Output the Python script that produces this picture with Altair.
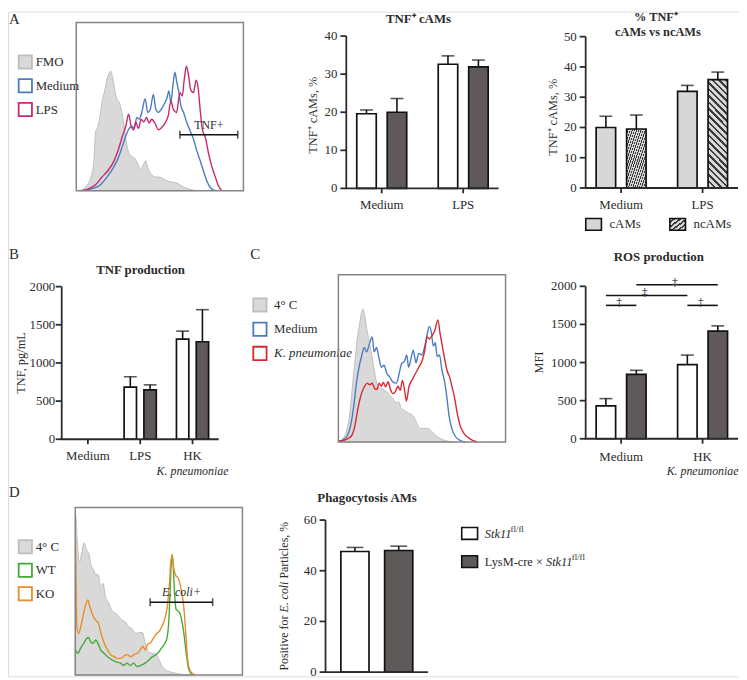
import altair as alt
import pandas as pd

# ------------------------------------------------------------------ data
# A - TNF flow histogram (x: fluorescence 0-100, y: % of max)
a_fmo_x = [1.6, 4.6, 7.1, 9.1, 10.5, 11.5, 12.7, 14.1, 15.4, 17.0, 18.6, 19.8, 20.6, 21.8, 23.0, 24.4, 25.7, 27.3, 28.9, 30.3,
           31.7, 33.3, 35.2, 37.2, 38.8, 40.4, 41.6, 42.8, 44.8, 47.1, 49.5, 52.1, 55.0, 58.0, 61.0, 64.0, 67.9, 71.9]
a_fmo_y = [0, 1.2, 4.1, 9.1, 16.9, 34.6, 37.6, 43.5, 52.4, 59.3, 67.1, 70.1, 71.1, 67.1, 60.2, 54.3, 52.4, 46.5, 36.6, 26.8,
           21.9, 20.5, 18.9, 15.0, 13.0, 15.9, 17.9, 13.4, 10.0, 8.1, 8.1, 7.1, 5.5, 5.1, 4.1, 2.2, 0.8, 0]
a_medium_x = [3.6, 9.5, 14.5, 18.4, 22.4, 25.3, 27.7, 29.7, 31.7, 33.3, 34.7, 36.2, 37.6, 39.2, 41.2, 42.8, 44.4, 46.1, 47.5, 49.1,
              51.1, 53.1, 54.3, 55.4, 56.6, 57.8, 59.0, 60.2, 61.4, 62.6, 64.2, 66.1, 68.1, 70.1, 72.1, 74.1, 76.0, 78.0, 80.4, 83.2]
a_medium_y = [0, 1.2, 3.5, 8.1, 14.0, 19.9, 26.8, 32.7, 37.0, 38.2, 37.0, 43.5, 42.5, 46.5, 54.7, 46.5, 48.8, 57.3, 48.8, 46.5,
              48.8, 52.4, 55.3, 59.3, 52.4, 62.2, 70.5, 64.2, 58.3, 50.4, 46.5, 40.6, 35.6, 30.7, 23.8, 17.9, 12.0, 6.1, 1.6, 0]
a_lps_x = [3.6, 11.5, 15.4, 19.0, 22.4, 25.3, 27.7, 29.7, 31.3, 32.7, 34.3, 35.6, 37.2, 38.8, 40.4, 42.0, 43.6, 45.1, 47.1, 49.1,
           51.1, 53.1, 55.0, 56.6, 58.2, 60.0, 62.0, 63.4, 64.6, 65.9, 67.3, 68.5, 70.1, 71.7, 72.9, 74.1, 75.4, 77.2, 79.2, 81.2,
           83.2, 85.1, 87.1]
a_lps_y = [0, 3.5, 8.1, 12.0, 17.3, 24.8, 32.7, 38.6, 45.5, 39.0, 36.2, 40.9, 37.0, 42.5, 40.9, 43.5, 40.2, 42.5, 40.2, 36.2,
           37.6, 40.2, 44.5, 53.3, 48.0, 46.5, 58.3, 56.3, 66.1, 74.0, 67.7, 59.8, 58.3, 65.7, 61.2, 48.4, 36.6, 31.7, 21.9, 14.0,
           8.1, 2.8, 0]
a_hist_labels = ["FMO", "Medium", "LPS"]
a_gate = [62.0, 96.6]
a_gate_level = 33.3
a_gate_text = "TNF+"

# A - bar charts
a_groups = ["Medium", "LPS"]
genotypes = ["Stk11 fl/fl", "LysM-cre x Stk11 fl/fl"]
a2_mean = [[19.6, 20.0], [32.6, 31.9]]
a2_err = [[1.0, 3.6], [2.2, 1.8]]
a3_series = ["cAMs", "ncAMs"]
a3_mean = [[20.0, 19.5], [31.9, 35.8]]
a3_err = [[3.7, 4.6], [2.0, 2.5]]

# B - TNF production
b_groups = ["Medium", "LPS", "HK"]
b_mean = [[0, 0], [682, 648], [1313, 1278]]
b_err = [[0, 0], [138, 65], [104, 420]]

# C - ROS flow histogram
c_cold_x = [0.6, 2.9, 4.9, 6.9, 8.4, 9.8, 11.2, 12.8, 13.9, 14.7, 15.7, 16.9, 18.3, 19.8, 21.4, 23.0, 24.6, 26.5, 28.5, 30.8,
            32.8, 34.4, 36.0, 37.5, 39.9, 42.2, 44.6, 46.6, 48.5, 51.1, 53.6, 56.0, 58.9, 62.3, 65.8, 68.8]
c_cold_y = [0, 2.2, 6.7, 17.5, 33.3, 47.0, 60.8, 71.1, 77.6, 79.5, 75.6, 67.7, 60.8, 53.0, 43.1, 35.2, 32.3, 31.7, 30.3, 27.8,
            25.8, 23.4, 24.0, 20.5, 18.5, 17.1, 15.6, 12.0, 8.1, 8.1, 8.1, 6.1, 3.3, 1.4, 0.4, 0]
c_medium_x = [0, 2.9, 5.3, 7.3, 9.2, 10.8, 12.4, 13.9, 15.5, 16.9, 18.5, 20.2, 21.4, 22.8, 24.2, 25.7, 27.3, 28.9, 30.8, 32.8,
              34.8, 36.3, 37.9, 39.5, 40.9, 42.0, 43.4, 44.8, 46.4, 48.1, 49.9, 51.7, 53.0, 54.4, 55.6, 56.8, 58.0, 59.1, 60.5,
              61.9, 63.5, 64.8, 66.2, 67.8, 69.7, 72.7, 76.0]
c_medium_y = [0.4, 1.4, 3.7, 9.6, 21.5, 35.2, 45.1, 51.4, 56.5, 53.9, 58.5, 62.8, 53.9, 56.5, 50.6, 44.7, 45.9, 41.1, 38.8, 35.6,
              35.2, 40.7, 47.0, 48.2, 52.0, 44.7, 49.8, 54.9, 47.4, 53.0, 52.0, 57.3, 63.8, 69.1, 65.6, 57.3, 59.3, 51.0, 52.0,
              43.1, 36.2, 27.4, 15.6, 8.1, 3.7, 1.0, 0]
c_kp_x = [0, 4.9, 7.9, 9.8, 11.8, 13.8, 15.7, 17.3, 18.7, 20.2, 21.8, 23.0, 24.4, 25.7, 26.9, 28.3, 29.7, 31.0, 32.6, 34.2,
          35.6, 37.0, 38.3, 39.7, 40.7, 42.2, 44.2, 46.2, 48.1, 50.1, 51.7, 53.0, 54.4, 56.0, 57.6, 59.5, 60.9, 62.3, 63.7,
          65.0, 66.4, 68.0, 69.5, 71.1, 72.9, 75.0, 77.6, 80.6, 83.1]
c_kp_y = [0.4, 1.6, 3.7, 9.3, 20.5, 28.9, 33.3, 35.2, 34.1, 35.2, 31.7, 31.3, 35.2, 33.3, 35.6, 32.9, 36.0, 31.9, 28.9, 30.3,
          33.3, 30.9, 36.8, 30.3, 24.4, 32.9, 37.2, 41.1, 44.7, 48.6, 54.9, 62.8, 61.6, 63.6, 66.3, 73.0, 64.4, 56.5, 49.0,
          42.7, 39.2, 32.9, 26.4, 17.1, 9.6, 5.3, 2.6, 0.8, 0]
c_hist_labels = ["4\u00b0 C", "Medium", "K. pneumoniae"]

# C - ROS production (MFI)
ros_groups = ["Medium", "HK"]
ros_mean = [[432, 846], [972, 1413]]
ros_err = [[95, 52], [126, 68]]
# significance brackets: (group1, series1, group2, series2, level, symbol)
ros_brackets = [("Medium", 0, "Medium", 1, 1750, "\u2020"),
                ("Medium", 0, "HK", 0, 1880, "\u2021"),
                ("Medium", 1, "HK", 1, 2020, "\u2021"),
                ("HK", 0, "HK", 1, 1750, "\u2020")]

# D - phagocytosis flow histogram
d_cold_x = [0, 0.2, 1.2, 2.4, 3.7, 5.3, 6.7, 8.3, 9.5, 10.8, 12.2, 13.8, 15.2, 16.6, 18.1, 20.1, 22.1, 24.1, 26.0, 28.0,
            30.0, 32.0, 33.9, 35.9, 37.9, 40.2, 41.8, 43.8, 45.8, 48.1, 50.1, 52.1, 54.0, 56.6, 60.6, 65.5, 69.4]
d_cold_y = [0, 95.7, 79.9, 67.1, 72.0, 78.9, 75.0, 72.0, 65.2, 63.2, 60.2, 59.8, 52.4, 54.7, 46.5, 42.9, 38.2, 37.0, 35.0, 32.7,
            31.7, 28.7, 27.8, 24.8, 25.2, 25.4, 19.3, 14.0, 13.0, 12.6, 9.1, 5.1, 3.1, 2.0, 1.0, 0.2, 0]
d_wt_x = [0.2, 1.6, 3.4, 5.3, 6.7, 7.9, 9.3, 10.7, 12.2, 13.6, 15.2, 17.2, 19.7, 22.1, 24.5, 27.0, 29.0, 31.0, 32.9, 34.9,
          36.9, 39.4, 41.8, 44.2, 46.2, 48.1, 49.7, 51.1, 52.5, 53.8, 55.0, 56.0, 56.8, 57.4, 58.0, 58.6, 59.4, 60.4, 61.5,
          62.7, 63.7, 64.7, 65.7, 66.7, 67.7, 69.0, 71.0]
d_wt_y = [15.0, 13.0, 16.5, 19.3, 21.7, 22.4, 19.7, 18.9, 20.9, 18.9, 15.0, 13.0, 10.6, 9.1, 7.9, 7.1, 5.9, 7.1, 5.7, 7.1,
          5.1, 5.9, 7.1, 9.1, 11.0, 12.0, 13.4, 15.4, 17.3, 19.3, 22.8, 32.7, 52.4, 66.1, 72.0, 65.2, 48.4, 39.0, 38.2,
          36.6, 32.7, 26.8, 18.9, 10.6, 4.1, 1.2, 0]
d_ko_x = [0.2, 1.0, 2.0, 3.6, 5.3, 6.7, 7.5, 8.7, 10.3, 12.2, 13.8, 15.4, 17.4, 19.3, 21.3, 23.3, 25.2, 27.2, 29.2, 31.2,
          33.1, 35.1, 37.1, 39.1, 40.4, 41.8, 43.4, 45.0, 46.7, 48.7, 50.5, 52.1, 53.6, 55.0, 56.2, 57.2, 58.0, 59.0, 60.2,
          61.5, 62.7, 63.9, 65.1, 66.1, 66.9, 67.9, 69.4, 71.8]
d_ko_y = [79.9, 28.7, 24.8, 30.3, 38.2, 43.5, 44.9, 40.9, 36.2, 32.7, 31.1, 24.8, 18.9, 15.0, 12.0, 11.0, 10.0, 10.0, 11.4, 12.2,
          11.0, 12.2, 13.0, 15.4, 17.3, 15.0, 18.5, 19.3, 21.9, 24.8, 26.4, 29.7, 33.7, 40.6, 52.4, 68.1, 71.1, 63.2, 59.3,
          57.9, 54.3, 48.4, 38.6, 24.8, 13.0, 5.1, 1.6, 0]
d_hist_labels = ["4\u00b0 C", "WT", "KO"]
d_gate = [44.8, 82.2]
d_gate_level = 43.5
d_gate_text = "E. coli+"

# D - phagocytosis bars
d_mean = [47.6, 48.0]
d_err = [1.6, 1.7]

# texts
title_a2 = "TNF\u207a cAMs"
title_a3 = ["% TNF\u207a", "cAMs vs ncAMs"]
title_b = "TNF production"
title_ros = "ROS production"
title_d = "Phagocytosis AMs"
ytitle_a = "TNF\u207a cAMs, %"
ytitle_b = "TNF, pg/mL"
ytitle_ros = "MFI"
ytitle_d = ["Positive for", "E. coli", "Particles, %"]
kp_text = "K. pneumoniae"
legend_d = ["Stk11", "fl/fl", "LysM-cre \u00d7"]
panel_letters = ["A", "B", "C", "D"]

# ------------------------------------------------------------------ style / layout
FONT = "Liberation Serif"
W, H = 739, 672
TXT = "#2b2b2b"
DARK = "#5f5a59"
LIGHT = "#d7d7d7"
HFILL = "#d9d9d9"
HLINE = "#bdbdbd"
FRAME = "#858585"
BLUE = "#4a7cc0"
MAGENTA = "#c8286c"
RED = "#d7282f"
GREEN = "#45a83a"
ORANGE = "#e88c2c"
HATCH_FG = "#3a3a3a"


def X(v):
    """page pixel -> chart pixel (page has an 8px margin)"""
    return v - 8


def Y(v):
    return v - 8


def text(t, x, y, size=13, weight="normal", style="normal", align="left", baseline="middle", angle=0, color=TXT):
    return alt.Chart(pd.DataFrame({"t": [t]})).mark_text(
        font=FONT, fontSize=size, fontWeight=weight, fontStyle=style, align=align,
        baseline=baseline, angle=angle, color=color
    ).encode(x=alt.value(X(x)), y=alt.value(Y(y)), text="t:N")


def hatch(px, spacing=6.6):
    n = max(3, int(round(2 * px / spacing)))
    stops = []
    for k in range(n):
        a, b, c = k / n, (k + 0.6) / n, (k + 1) / n
        stops += [alt.GradientStop(color=LIGHT, offset=a), alt.GradientStop(color=LIGHT, offset=b),
                  alt.GradientStop(color=HATCH_FG, offset=b), alt.GradientStop(color=HATCH_FG, offset=c)]
    return alt.LinearGradient(gradient="linear", stops=stops, x1=0, y1=0, x2=1, y2=1)


def axis_layers(xs, ys, groups, xr, yr, ydom, ticks, ytitle=None, ytitle_x=None, ytitle_dy=0,
                xlabels=True, label_y=None, label_gap=9):
    ax_x, ax_y = X(xr[0]), Y(yr[0])
    out = []
    out.append(alt.Chart(pd.DataFrame({"lo": [ydom[0]], "hi": [ydom[1]]})).mark_rule(
        color=TXT, strokeWidth=1.8).encode(
        x=alt.value(ax_x), y=alt.Y("lo:Q", scale=ys, axis=None), y2="hi:Q"))
    tdf = pd.DataFrame({"v": ticks, "lab": [str(t) for t in ticks]})
    out.append(alt.Chart(tdf).mark_rule(color=TXT, strokeWidth=1.8).encode(
        x=alt.value(ax_x - 6), x2=alt.value(ax_x), y=alt.Y("v:Q", scale=ys, axis=None)))
    out.append(alt.Chart(tdf).mark_text(font=FONT, fontSize=13, color=TXT, align="right", baseline="middle").encode(
        x=alt.value(ax_x - label_gap), y=alt.Y("v:Q", scale=ys, axis=None), text="lab:N"))
    out.append(alt.Chart(pd.DataFrame({"z": [ydom[0]]})).mark_rule(color=TXT, strokeWidth=1.8).encode(
        x=alt.value(X(xr[0]) - 0.9), x2=alt.value(X(xr[1])), y=alt.Y("z:Q", scale=ys, axis=None)))
    if xlabels:
        gdf = pd.DataFrame({"g": groups})
        out.append(alt.Chart(gdf).mark_rule(color=TXT, strokeWidth=1.8).encode(
            x=alt.X("g:N", scale=xs, axis=None), y=alt.value(ax_y), y2=alt.value(ax_y + 5)))
        out.append(alt.Chart(gdf).mark_text(font=FONT, fontSize=13, color=TXT, baseline="middle").encode(
            x=alt.X("g:N", scale=xs, axis=None), y=alt.value(Y(label_y)), text="g:N"))
    if ytitle is not None:
        out.append(text(ytitle, ytitle_x, (yr[0] + yr[1]) / 2 + ytitle_dy, size=12.5, align="center", angle=270))
    return out


def band_centre(n_groups, n_series, xr, band, sub, gi, si):
    L = xr[1] - xr[0]
    step = L / (n_groups - band[0] + 2 * band[1])
    bw = step * (1 - band[0])
    sstep = bw / (n_series - sub[0] + 2 * sub[1])
    return xr[0] + step * (band[1] + gi) + sstep * (sub[1] + si) + sstep * (1 - sub[0]) / 2


def bar_panel(groups, series, means, errs, fills, xr, yr, ydom, ticks, ytitle, ytitle_x,
              band, sub, label_y, hatched=None, extra=None, ytitle_dy=0, label_gap=9):
    rows = []
    for gi, g in enumerate(groups):
        for si, s in enumerate(series):
            rows.append({"g": g, "s": s, "m": means[gi][si], "e": errs[gi][si]})
    df = pd.DataFrame(rows)
    df["top"] = df["m"] + df["e"]
    xs = alt.Scale(type="band", domain=groups, range=[X(xr[0]), X(xr[1])],
                   paddingInner=band[0], paddingOuter=band[1])
    os_ = alt.Scale(type="band", domain=series, paddingInner=sub[0], paddingOuter=sub[1])
    ys = alt.Scale(domain=ydom, range=[Y(yr[0]), Y(yr[1])], nice=False, zero=True)
    base = alt.Chart(df).transform_filter("datum.m > 0")
    xo = alt.XOffset("s:N", scale=os_)
    xx = alt.X("g:N", scale=xs, axis=None)
    layers = []
    bar_base = base if hatched is None else base.transform_filter(alt.datum.s != hatched)
    layers.append(bar_base.mark_bar(stroke="#111", strokeWidth=1.7).encode(
        x=xx, xOffset=xo, y=alt.Y("m:Q", scale=ys, axis=None),
        fill=alt.Fill("s:N", scale=alt.Scale(domain=series, range=fills), legend=None)))
    if hatched is not None:
        ppu = (Y(yr[0]) - Y(yr[1])) / (ydom[1] - ydom[0])
        for gi, g in enumerate(groups):
            val = means[gi][series.index(hatched)]
            layers.append(base.transform_filter((alt.datum.s == hatched) & (alt.datum.g == g))
                          .mark_bar(stroke="#111", strokeWidth=1.7, fill=hatch(val * ppu)).encode(
                x=xx, xOffset=xo, y=alt.Y("m:Q", scale=ys, axis=None)))
    layers.append(base.mark_rule(color="#111", strokeWidth=1.6).encode(
        x=xx, xOffset=xo, y=alt.Y("m:Q", scale=ys, axis=None), y2="top:Q"))
    layers.append(base.mark_tick(color="#111", orient="horizontal", size=13, thickness=1.6).encode(
        x=xx, xOffset=xo, y=alt.Y("top:Q", scale=ys, axis=None)))
    layers += axis_layers(xs, ys, groups, xr, yr, ydom, ticks, ytitle, ytitle_x, ytitle_dy, True, label_y,
                          label_gap)
    if extra is not None:
        layers += extra(xs, os_, ys)
    return alt.layer(*layers)


def histogram(frame, fill_x, fill_y, curves, names, colors, gate=None, gate_level=None,
              gate_text=None, gate_style="normal"):
    x0, x1, y0, y1 = frame
    xs = alt.Scale(domain=[0, 100], range=[X(x0), X(x1)], nice=False, zero=False)
    ys = alt.Scale(domain=[0, 100], range=[Y(y1), Y(y0)], nice=False, zero=False)
    layers = [alt.Chart(pd.DataFrame({"x": fill_x, "y": fill_y})).mark_area(
        fill=HFILL, stroke=HLINE, strokeWidth=1, interpolate="monotone").encode(
        x=alt.X("x:Q", scale=xs, axis=None), y=alt.Y("y:Q", scale=ys, axis=None, stack=None))]
    recs = []
    for name, (cx, cy) in zip(names, curves):
        recs += [{"x": a, "y": b, "s": name} for a, b in zip(cx, cy)]
    layers.append(alt.Chart(pd.DataFrame(recs)).mark_line(strokeWidth=1.4, interpolate="monotone").encode(
        x=alt.X("x:Q", scale=xs, axis=None), y=alt.Y("y:Q", scale=ys, axis=None),
        stroke=alt.Stroke("s:N", scale=alt.Scale(domain=names, range=colors), legend=None)))
    if gate is not None:
        gdf = pd.DataFrame({"a": [gate[0]], "b": [gate[1]], "lev": [gate_level],
                            "mid": [(gate[0] + gate[1]) / 2], "t": [gate_text]})
        layers.append(alt.Chart(gdf).mark_rule(color="#111", strokeWidth=1.6).encode(
            x=alt.X("a:Q", scale=xs, axis=None), x2="b:Q", y=alt.Y("lev:Q", scale=ys, axis=None)))
        edf = pd.DataFrame({"x": gate, "lev": [gate_level] * 2})
        layers.append(alt.Chart(edf).mark_tick(color="#111", orient="vertical", size=8, thickness=1.6).encode(
            x=alt.X("x:Q", scale=xs, axis=None), y=alt.Y("lev:Q", scale=ys, axis=None)))
        layers.append(alt.Chart(gdf).mark_text(font=FONT, fontSize=12, fontStyle=gate_style, color=TXT,
                                               baseline="bottom", dy=-3).encode(
            x=alt.X("mid:Q", scale=xs, axis=None), y=alt.Y("lev:Q", scale=ys, axis=None), text="t:N"))
    fdf = pd.DataFrame({"a": [0], "b": [100], "c": [0], "d": [100]})
    layers.append(alt.Chart(fdf).mark_rect(fillOpacity=0, stroke=FRAME, strokeWidth=1.5).encode(
        x=alt.X("a:Q", scale=xs, axis=None), x2="b:Q", y=alt.Y("c:Q", scale=ys, axis=None), y2="d:Q"))
    return alt.layer(*layers)


def hist_legend(labels, fills, strokes, box_x, y_first, y_last, text_x, italic=()):
    df = pd.DataFrame({"lab": labels})
    ysc = alt.Scale(type="point", domain=labels, range=[Y(y_first), Y(y_last)], padding=0)
    layers = [alt.Chart(df).mark_point(shape="square", size=180, filled=True, strokeWidth=1.8, opacity=1).encode(
        x=alt.value(X(box_x)), y=alt.Y("lab:N", scale=ysc, axis=None),
        fill=alt.Fill("lab:N", scale=alt.Scale(domain=labels, range=fills), legend=None),
        stroke=alt.Stroke("lab:N", scale=alt.Scale(domain=labels, range=strokes), legend=None))]
    for lab in labels:
        layers.append(alt.Chart(df).transform_filter(alt.datum.lab == lab).mark_text(
            font=FONT, fontSize=13, align="left", color=TXT,
            fontStyle="italic" if lab in italic else "normal").encode(
            x=alt.value(X(text_x)), y=alt.Y("lab:N", scale=ysc, axis=None), text="lab:N"))
    return alt.layer(*layers)


RECT_SHAPE = "M-1,-0.75L1,-0.75L1,0.75L-1,0.75Z"


def box(x, y, fill, size=256):
    return alt.Chart(pd.DataFrame({"k": [0]})).mark_point(
        shape=RECT_SHAPE, size=size, filled=True, fill=fill, stroke="#111", strokeWidth=1.6, opacity=1
    ).encode(x=alt.value(X(x)), y=alt.value(Y(y)))


panels = []

# ---- A
panels.append(text(panel_letters[0], 9, 15, size=15))
panels.append(histogram((77, 246, 19, 189), a_fmo_x, a_fmo_y,
                        [(a_medium_x, a_medium_y), (a_lps_x, a_lps_y)], a_hist_labels[1:], [BLUE, MAGENTA],
                        a_gate, a_gate_level, a_gate_text))
panels.append(hist_legend(a_hist_labels, [HFILL, "white", "white"], [HLINE, BLUE, MAGENTA], 25.5, 59, 107, 36))

panels.append(text(title_a2, 423, 15, weight="bold", align="center"))
panels.append(bar_panel(a_groups, genotypes, a2_mean, a2_err, ["white", DARK], (350, 504), (186.7, 32.7),
                        [0, 40], [0, 10, 20, 30, 40], ytitle_a, 316, (0.2, 0.035), (0.36, 0.25), 204,
                        ytitle_dy=3))

panels.append(text(title_a3[0], 663, 13.5, weight="bold", align="center", size=12.5))
panels.append(text(title_a3[1], 665, 28.5, weight="bold", align="center", size=12.5))
panels.append(bar_panel(a_groups, a3_series, a3_mean, a3_err, [LIGHT, LIGHT], (592, 746), (186.3, 33.3),
                        [0, 50], [0, 10, 20, 30, 40, 50], ytitle_a, 559, (0.2, 0.035), (0.36, 0.25), 204,
                        hatched="ncAMs", ytitle_dy=5))
panels.append(box(600, 223, LIGHT, size=250))
panels.append(box(685, 223, hatch(16), size=250))
panels.append(text(a3_series[0], 616, 223))
panels.append(text(a3_series[1], 701, 223))

# ---- B
panels.append(text(panel_letters[1], 9, 253, size=15))
panels.append(text(title_b, 142, 269, weight="bold", align="center"))


def kp_label(xs, os_, ys):
    return [alt.Chart(pd.DataFrame({"g": ["HK"], "t": [kp_text]})).mark_text(
        font=FONT, fontSize=12, fontStyle="italic", color=TXT).encode(
        x=alt.X("g:N", scale=xs, axis=None), y=alt.value(Y(472.5)), text="t:N")]


panels.append(bar_panel(b_groups, genotypes, b_mean, b_err, ["white", DARK], (62.3, 221), (440.3, 286),
                        [0, 2000], [0, 500, 1000, 1500, 2000], ytitle_b, 21.5, (0.2, 0.1), (0.375, 0.245), 457,
                        extra=kp_label, label_gap=6.5))

# ---- C
panels.append(text(panel_letters[2], 253, 253, size=15))
panels.append(hist_legend(c_hist_labels, [HFILL, "white", "white"], [HLINE, BLUE, RED], 262.7, 304.5, 353.5, 277,
                          italic=(c_hist_labels[2],)))
panels.append(histogram((342, 511, 274, 443), c_cold_x, c_cold_y,
                        [(c_medium_x, c_medium_y), (c_kp_x, c_kp_y)], c_hist_labels[1:], [BLUE, RED]))

panels.append(text(title_ros, 666, 256, weight="bold", align="center"))
ROS_XR, ROS_BAND, ROS_SUB = (592, 746), (0.2, 0.035), (0.36, 0.25)


def ros_extra(xs, os_, ys):
    out = []
    recs = []
    for i, (g1, s1, g2, s2, lev, sym) in enumerate(ros_brackets):
        recs.append({"id": i, "g": g1, "s": genotypes[s1], "lev": lev})
        recs.append({"id": i, "g": g2, "s": genotypes[s2], "lev": lev})
    out.append(alt.Chart(pd.DataFrame(recs)).mark_line(color="#111", strokeWidth=1.6).encode(
        x=alt.X("g:N", scale=xs, axis=None), xOffset=alt.XOffset("s:N", scale=os_),
        y=alt.Y("lev:Q", scale=ys, axis=None), detail="id:N"))
    for g1, s1, g2, s2, lev, sym in ros_brackets:
        c1 = band_centre(2, 2, ROS_XR, ROS_BAND, ROS_SUB, ros_groups.index(g1), s1)
        c2 = band_centre(2, 2, ROS_XR, ROS_BAND, ROS_SUB, ros_groups.index(g2), s2)
        out.append(alt.Chart(pd.DataFrame({"g": [g1], "s": [genotypes[s1]], "lev": [lev], "t": [sym]})).mark_text(
            font="DejaVu Serif", fontSize=12, fill="#444444", baseline="alphabetic",
            dx=(c2 - c1) / 2 - 2, dy=1).encode(
            x=alt.X("g:N", scale=xs, axis=None), xOffset=alt.XOffset("s:N", scale=os_),
            y=alt.Y("lev:Q", scale=ys, axis=None), text="t:N"))
    out += kp_label(xs, os_, ys)
    return out


panels.append(bar_panel(ros_groups, genotypes, ros_mean, ros_err, ["white", DARK], ROS_XR, (439.8, 285.7),
                        [0, 2000], [0, 500, 1000, 1500, 2000], ytitle_ros, 545, ROS_BAND, ROS_SUB, 458,
                        extra=ros_extra))

# ---- D
panels.append(text(panel_letters[3], 9, 494, size=15))
panels.append(histogram((76, 245, 509.3, 678.7), d_cold_x, d_cold_y,
                        [(d_wt_x, d_wt_y), (d_ko_x, d_ko_y)], d_hist_labels[1:], [GREEN, ORANGE],
                        d_gate, d_gate_level, d_gate_text, gate_style="italic"))
panels.append(hist_legend(d_hist_labels, [HFILL, "white", "white"], [HLINE, GREEN, ORANGE], 25.5, 549, 596.5, 36))

panels.append(text(title_d, 371, 499.5, weight="bold", align="center"))
ddf = pd.DataFrame({"s": genotypes, "m": d_mean, "e": d_err})
ddf["top"] = ddf["m"] + ddf["e"]
D_XR, D_YR = (329, 432.7), (675.7, 522)
dxs = alt.Scale(type="band", domain=genotypes, range=[X(D_XR[0]), X(D_XR[1])], paddingInner=0.357, paddingOuter=0.35)
dys = alt.Scale(domain=[0, 60], range=[Y(D_YR[0]), Y(D_YR[1])], nice=False, zero=True)
panels.append(alt.layer(
    alt.Chart(ddf).mark_bar(stroke="#111", strokeWidth=1.7).encode(
        x=alt.X("s:N", scale=dxs, axis=None),
        y=alt.Y("m:Q", scale=dys, axis=None),
        fill=alt.Fill("s:N", scale=alt.Scale(domain=genotypes, range=["white", DARK]), legend=None)),
    alt.Chart(ddf).mark_rule(color="#111", strokeWidth=1.6).encode(
        x=alt.X("s:N", scale=dxs, axis=None), y=alt.Y("m:Q", scale=dys, axis=None), y2="top:Q"),
    alt.Chart(ddf).mark_tick(color="#111", orient="horizontal", size=17, thickness=1.6).encode(
        x=alt.X("s:N", scale=dxs, axis=None), y=alt.Y("top:Q", scale=dys, axis=None)),
    *axis_layers(dxs, dys, genotypes, D_XR, D_YR, [0, 60], [0, 20, 40, 60], xlabels=False)
))
# rotated y title with an italic part (reads bottom to top)
fs = 12
w_sp = 0.25 * fs
w_pos = 4.639 * fs + w_sp
w_eco = 2.611 * fs + w_sp
total = 12.527 * fs
y_start = 599 + total / 2
panels.append(text(ytitle_d[0], 287, y_start, size=fs, angle=270))
panels.append(text(ytitle_d[1], 287, y_start - w_pos, size=fs, angle=270, style="italic"))
panels.append(text(ytitle_d[2], 287, y_start - w_pos - w_eco, size=fs, angle=270))

# D legend (genotypes)
panels.append(box(474.7, 535.5, "white"))
panels.append(box(474.7, 564, DARK))
lf = 12.5
w_stk = 2.0 * lf
w_lys = 4.95 * lf
panels.append(text(legend_d[0], 490, 536, size=lf, style="italic"))
panels.append(text(legend_d[1], 490 + w_stk + 1, 531, size=9))
panels.append(text(legend_d[2], 490, 564.5, size=lf))
panels.append(text(legend_d[0], 490 + w_lys, 564.5, size=lf, style="italic"))
panels.append(text(legend_d[1], 490 + w_lys + w_stk + 1, 559.5, size=9))

chart = alt.layer(*panels).resolve_scale(
    x="independent", y="independent", xOffset="independent",
    fill="independent", stroke="independent"
).properties(
    width=W, height=H, padding=0, autosize=alt.AutoSizeParams(type="none")
).configure_view(stroke=None).configure(background="white")

chart.save("out.html", embed_options={"renderer": "svg", "actions": False})
